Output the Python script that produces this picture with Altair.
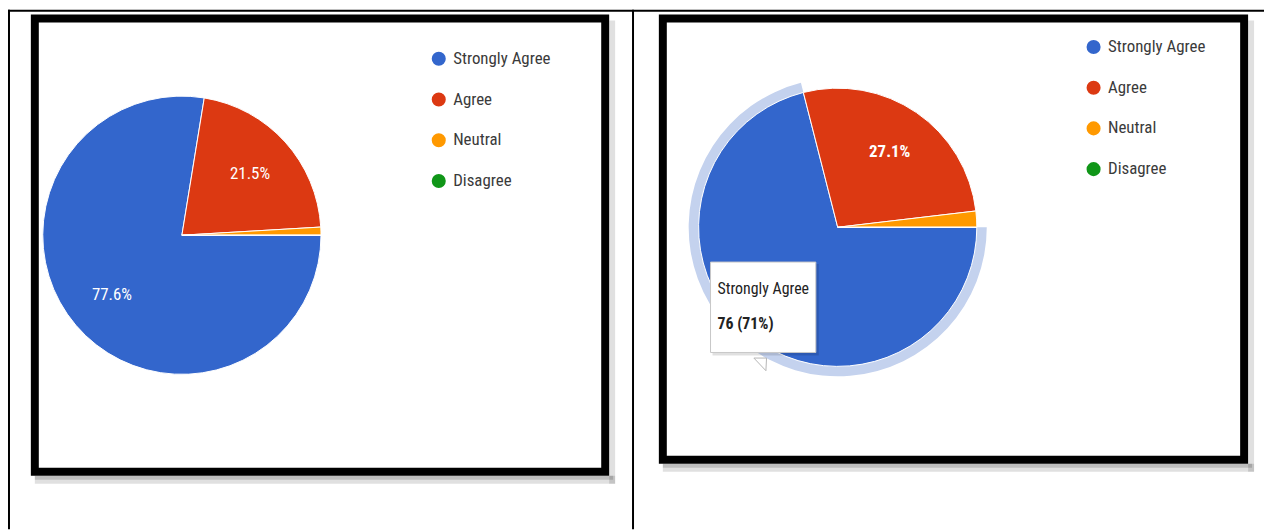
import math
import altair as alt
import pandas as pd

# ---------------- data ----------------
categories = ["Strongly Agree", "Agree", "Neutral", "Disagree"]
colors = ["#3366cc", "#dc3912", "#ff9900", "#109618"]
left_counts = [83, 23, 1, 0]     # 77.6% / 21.5% / 0.9% / 0%
right_counts = [76, 29, 2, 0]    # 71% / 27.1% / 1.9% / 0%
highlight_category = "Strongly Agree"   # hovered slice on the right chart

FONT = "Liberation Sans Narrow, Roboto Condensed, DejaVu Sans Condensed, Arial Narrow, Liberation Sans, sans-serif"
W, H = 1264, 523
R = 140


def pie_table(counts, hidden=None):
    total = sum(counts)
    rows = []
    for i, (c, v) in enumerate(zip(categories, counts)):
        pct = v / total * 100
        show = pct >= 5 and c != hidden
        rows.append({"answer": c, "count": v, "idx": i,
                     "label": f"{pct:.1f}%" if show else ""})
    return pd.DataFrame(rows)


theta_scale = alt.Scale(range=[math.pi / 2, math.pi / 2 + 2 * math.pi])
color_scale = alt.Scale(domain=categories, range=colors)


def pie_layers(df, cx, cy, lx, ly, label_weight, ring=False):
    base = alt.Chart(df).encode(
        theta=alt.Theta("count:Q", stack=True, scale=theta_scale),
        order=alt.Order("idx:Q"),
        detail="answer:N",
    )
    layers = []
    if ring:
        layers.append(
            base.mark_arc(radius=R + 10).encode(
                x=alt.value(cx), y=alt.value(cy),
                fill=alt.when(alt.datum.answer == highlight_category)
                .then(alt.value("#c4d2ee"))
                .otherwise(alt.value("transparent")),
            )
        )
    layers.append(
        base.mark_arc(radius=R, stroke="white", strokeWidth=1).encode(
            x=alt.value(cx), y=alt.value(cy),
            color=alt.Color(
                "answer:N", scale=color_scale, sort=categories,
                legend=alt.Legend(orient="none", legendX=lx, legendY=ly, title=None),
            ),
        )
    )
    layers.append(
        base.mark_text(radius=R * 0.66, font=FONT, fontSize=17, color="white",
                       fontWeight=label_weight).encode(
            x=alt.value(cx), y=alt.value(cy), text="label:N")
    )
    return alt.layer(*layers)


one = pd.DataFrame({"k": [0]})


def rect(x, x2, y, y2, **kw):
    return alt.Chart(one).mark_rect(**kw).encode(
        x=alt.value(x), x2=alt.value(x2), y=alt.value(y), y2=alt.value(y2))


def rule(x, x2, y, y2, **kw):
    return alt.Chart(one).mark_rule(**kw).encode(
        x=alt.value(x), x2=alt.value(x2), y=alt.value(y), y2=alt.value(y2))


decor = [
    # table lines
    rule(0, W, 1, 1, color="black", strokeWidth=2),
    rule(1, 1, 0, H, color="black", strokeWidth=2),
    rule(629, 629, 0, H, color="black", strokeWidth=2),
    # frame shadows
    rect(27, 611, 469, 477, fill="black", opacity=0.12),
    rect(27, 609, 469, 473, fill="black", opacity=0.15),
    rect(605, 611, 11, 477, fill="black", opacity=0.12),
    rect(659, 1254, 457, 465, fill="black", opacity=0.12),
    rect(659, 1252, 457, 461, fill="black", opacity=0.15),
    rect(1248, 1254, 11, 465, fill="black", opacity=0.12),
    # frames
    rect(27, 601, 9, 465, fillOpacity=0, stroke="black", strokeWidth=8),
    rect(659, 1244, 9, 453, fillOpacity=0, stroke="black", strokeWidth=8),
]

left = pie_layers(pie_table(left_counts), 175, 227, 425, 41, "normal")
right = pie_layers(pie_table(right_counts, hidden=highlight_category),
                   835, 219, 1084, 29, "bold", ring=True)

# tooltip box on the right pie
tip_df = pd.DataFrame({
    "name": [categories[0]],
    "value": [f"{right_counts[0]} ({round(right_counts[0] / sum(right_counts) * 100)}%)"],
})
tip_shadow = rect(709, 816, 256, 348, fill="black", opacity=0.12)
tip_tail = alt.Chart(one).mark_point(
    shape="M -0.5 -0.5 L 0.5 -0.5 L 0.45 0.5 Z", filled=True, fill="white",
    stroke="#b5b5b5", strokeWidth=1, size=650, opacity=1,
).encode(x=alt.value(757), y=alt.value(357))
tip_box = rect(707, 813, 254, 345, fill="white", stroke="#c8c8c8", strokeWidth=1)
tip_name = alt.Chart(tip_df).mark_text(
    align="left", baseline="middle", font=FONT, fontSize=16, color="#222222"
).encode(x=alt.value(714), y=alt.value(281), text="name:N")
tip_value = alt.Chart(tip_df).mark_text(
    align="left", baseline="middle", font=FONT, fontSize=16, fontWeight="bold", color="#222222"
).encode(x=alt.value(714), y=alt.value(316), text="value:N")

chart = alt.layer(
    *decor, left, right, tip_shadow, tip_tail, tip_box, tip_name, tip_value
).resolve_scale(
    color="independent", theta="independent"
).properties(
    width=W, height=H, padding=0, autosize="none", background="white"
).configure_view(
    stroke=None
).configure_legend(
    labelFont=FONT, labelFontSize=17, labelColor="#3a3a3a", labelOffset=6,
    symbolType="circle", symbolSize=200, symbolStrokeWidth=0,
    rowPadding=23, padding=0, labelLimit=300,
)

chart.save("out.html", embed_options={"renderer": "svg", "actions": False})
